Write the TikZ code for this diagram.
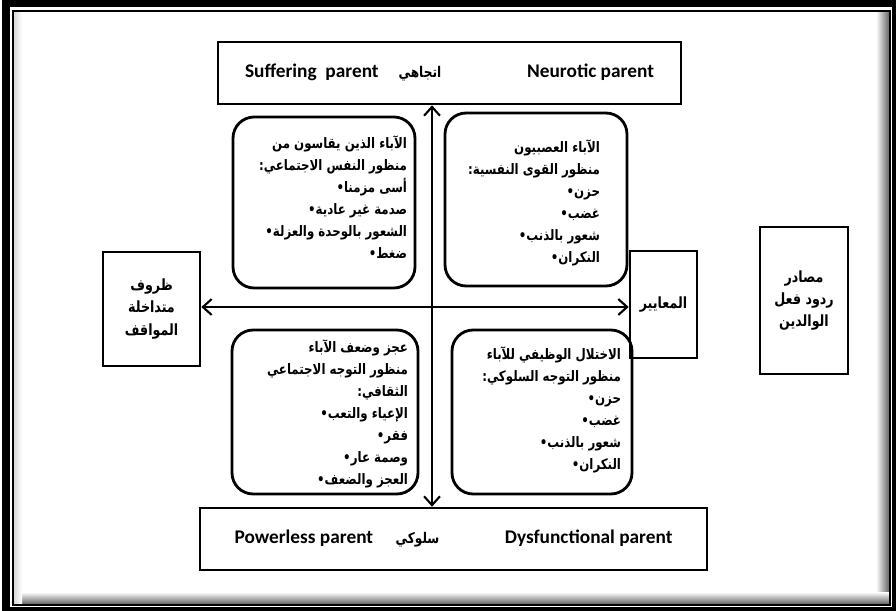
\documentclass[tikz,border=0pt]{standalone}
\usepackage{fontspec}
\setmainfont{Carlito}
\newfontfamily\arabicfont[Script=Arabic, FakeStretch=0.82]{DejaVu Sans Bold}
\TeXXeTstate=1
\usepackage{tikz}
\usetikzlibrary{arrows.meta, positioning, calc}
\newcommand{\rtline}[1]{\beginR #1\endR}
\newcommand{\bulletline}[1]{\hbox{•}\hbox{\rtline{#1}}}

\begin{document}
\begin{tikzpicture}[
    x=0.02cm, y=-0.02cm,
    font=\bfseries\fontsize{11}{13}\selectfont,
    % Style definitions
    typebox/.style={draw, line width=1.5pt, inner sep=0pt, minimum height=1.24cm},
    quadbox/.style={draw, line width=1.6pt, rounded corners=12pt, inner sep=0pt},
    sidebox/.style={draw, line width=1.5pt, align=center, inner sep=0pt,
        font=\arabicfont\fontsize{8.8}{12.6}\selectfont},
    arlist/.style={anchor=north east, align=right, inner sep=0pt,
        font=\arabicfont\fontsize{8.2}{12.5}\selectfont},
    dblarrow/.style={{Straight Barb[length=5pt,width=9pt]}-{Straight Barb[length=5pt,width=9pt]}, line width=1.2pt}
]
    \useasboundingbox (0,0) rectangle (896,611);

    % === FRAME ===
    \fill[black] (2,0) rectangle (896,611);
    \fill[white] (10,7) rectangle (892,607);
    \shade[left color=white, right color=black!60] (876,12) rectangle (889,604);
    \shade[top color=white, bottom color=black!60] (14,592) rectangle (889,604);
    \shade[left color=black!15, right color=white] (14,12) rectangle (22,604);
    \fill[white] (22,12) rectangle (876,592);
    \draw[line width=1.3pt] (13,11) rectangle (890,605);

    % === TOP AND BOTTOM ===
    \node (top_box) [typebox, minimum width=9.26cm] at (449.5,73)
        {\hbox to 8.18cm{Suffering\ \ parent\hspace{0.4cm}{\arabicfont\fontsize{8.4}{12}\selectfont\rtline{اتجاهي}}\hfill Neurotic parent}};
    \node (bot_box) [typebox, minimum width=10.14cm] at (453.5,539)
        {\hbox to 8.76cm{Powerless parent\hspace{0.45cm}{\arabicfont\fontsize{8.4}{12}\selectfont\rtline{سلوكي}}\hfill Dysfunctional parent}};

    % === QUADRANTS ===
    \node (tl_box) [quadbox, minimum width=3.64cm, minimum height=3.42cm] at (324,202.5) {};
    \node (tr_box) [quadbox, minimum width=3.64cm, minimum height=3.46cm] at (536,199.5) {};
    \node (bl_box) [quadbox, minimum width=3.72cm, minimum height=3.28cm] at (325,412) {};
    \node (br_box) [quadbox, minimum width=3.60cm, minimum height=3.28cm] at (542,412) {};

    \node (tl_text) [arlist] at ([shift={(-9,20)}]tl_box.north east)
        {\rtline{الآباء الذين يقاسون من}\\
         \rtline{منظور النفس الاجتماعي:}\\
         \bulletline{أسى مزمنا}\\
         \bulletline{صدمة غير عادية}\\
         \bulletline{الشعور بالوحدة والعزلة}\\
         \bulletline{ضغط}};
    \node (tr_text) [arlist] at ([shift={(-28,28)}]tr_box.north east)
        {\rtline{الآباء العصبيون}\\
         \rtline{منظور القوى النفسية:}\\
         \bulletline{حزن}\\
         \bulletline{غضب}\\
         \bulletline{شعور بالذنب}\\
         \bulletline{النكران}};
    \node (bl_text) [arlist] at ([shift={(-11,11)}]bl_box.north east)
        {\rtline{عجز وضعف الآباء}\\
         \rtline{منظور التوجه الاجتماعي}\\
         \rtline{الثقافي:}\\
         \bulletline{الإعياء والتعب}\\
         \bulletline{فقر}\\
         \bulletline{وصمة عار}\\
         \bulletline{العجز والضعف}};
    \node (br_text) [arlist] at ([shift={(-12,18)}]br_box.north east)
        {\rtline{الاختلال الوظيفي للآباء}\\
         \rtline{منظور التوجه السلوكي:}\\
         \bulletline{حزن}\\
         \bulletline{غضب}\\
         \bulletline{شعور بالذنب}\\
         \bulletline{النكران}};

    % === SIDES ===
    \node (cond_box) [sidebox, minimum width=1.94cm, minimum height=2.28cm] at (151.5,309)
        {\rtline{ظروف}\\\rtline{متداخلة}\\\rtline{المواقف}};
    \node (crit_box) [sidebox, minimum width=1.34cm, minimum height=2.14cm] at (663.5,304.5)
        {\rtline{المعايير}};
    \node (src_box) [sidebox, minimum width=1.76cm, minimum height=2.94cm] at (804,300.5)
        {\rtline{مصادر}\\\rtline{ردود فعل}\\\rtline{الوالدين}};

    % === AXES ===
    \coordinate (axis) at (432,307);
    \draw [dblarrow] (top_box.south -| axis) -- (bot_box.north -| axis);
    \draw [dblarrow] (cond_box.east |- axis) -- (crit_box.west |- axis);

\end{tikzpicture}
\end{document}
